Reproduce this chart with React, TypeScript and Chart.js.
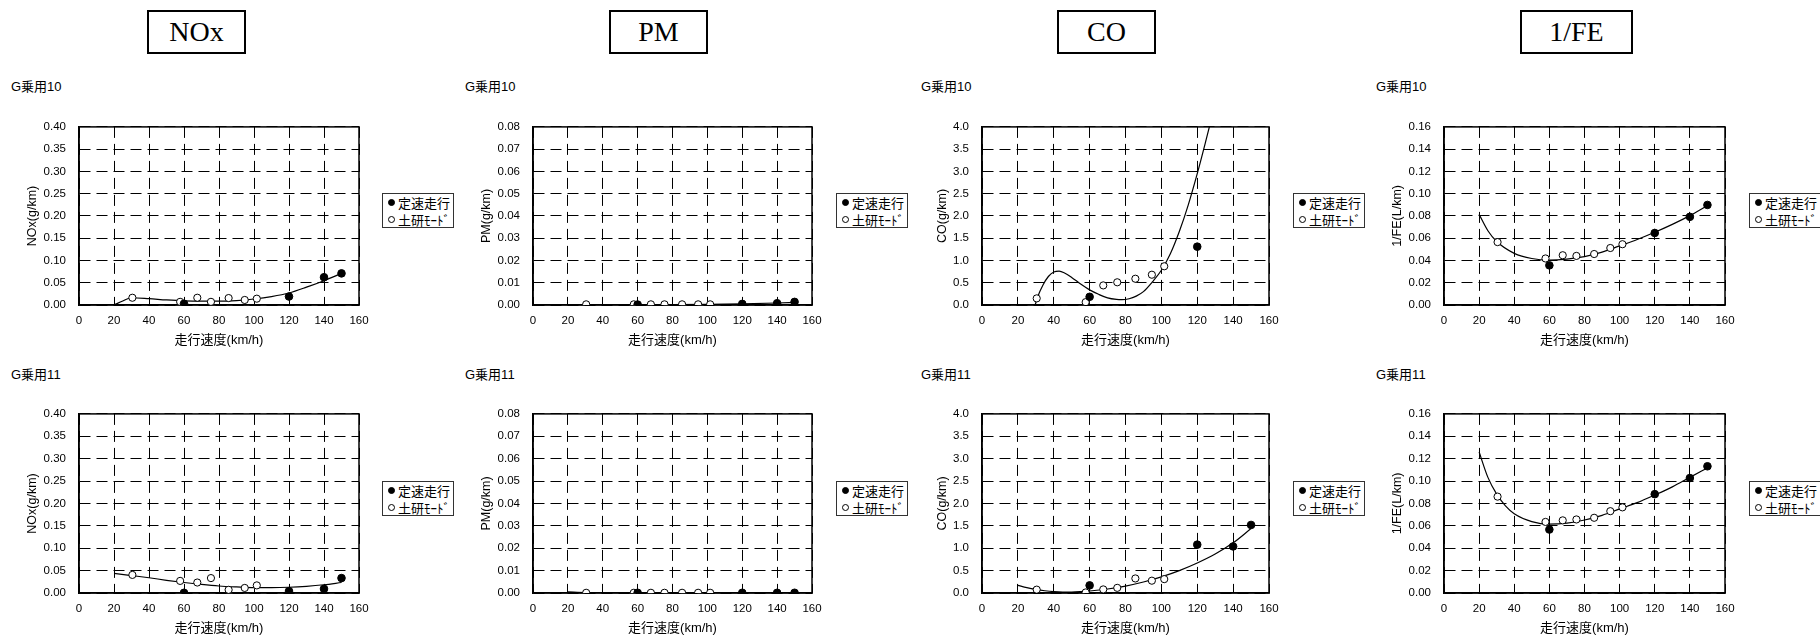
import React, { useEffect, useRef } from "react";
import { Chart, registerables } from "chart.js";

Chart.register(...registerables);

// ---- shared speeds ----
const modeSpeed = [30.5, 57.8, 67.6, 75.4, 85.5, 94.7, 101.6];
const constSpeed = [60, 120, 140, 150];
const coG10ConstSpeed = [60, 120];
const xTicks = [0, 20, 40, 60, 80, 100, 120, 140, 160];

// ---- NOx ----
const noxG10Mode = [0.0163, 0.0071, 0.0163, 0.0071, 0.0156, 0.0113, 0.0142];
const noxG10Const = [0.0028, 0.019, 0.0624, 0.071];
const noxG10TrendX = [20, 25, 30, 40, 50, 60, 70, 80, 90, 100, 110, 120, 130, 140, 150];
const noxG10TrendY = [0, 0.009, 0.0163, 0.0142, 0.0113, 0.0092, 0.0085, 0.0085, 0.0099, 0.0135, 0.019, 0.027, 0.04, 0.0546, 0.071];

const noxG11Mode = [0.0404, 0.027, 0.0234, 0.0333, 0.0071, 0.0113, 0.017];
const noxG11Const = [0.0005, 0.0043, 0.0092, 0.0333];
const noxG11TrendX = [20, 30, 40, 50, 60, 70, 80, 90, 100, 110, 120, 130, 140, 150];
const noxG11TrendY = [0.044, 0.039, 0.034, 0.0284, 0.0234, 0.0191, 0.0156, 0.0135, 0.012, 0.012, 0.0128, 0.0149, 0.0184, 0.0234];

// ---- PM ----
const pmG10Mode = [0.0003, 0.0003, 0.0003, 0.0003, 0.0003, 0.0003, 0.0003];
const pmG10Const = [0.0002, 0.0005, 0.0008, 0.0014];
const pmG10TrendX = [20, 30, 40, 60, 80, 100, 120, 140, 150];
const pmG10TrendY = [0, 0.0001, 0.0002, 0.0002, 0.0002, 0.0003, 0.0005, 0.0009, 0.0012];

const pmG11Mode = [0.0001, 0.0001, 0.0001, 0.0001, 0.0001, 0.0001, 0.0001];
const pmG11Const = [0.0001, 0.0001, 0.0001, 0.0001];
const pmG11TrendX = [20, 30, 40, 60, 100, 150];
const pmG11TrendY = [0.0005, 0.0002, 0.0001, 0.0001, 0.0001, 0.0001];

// ---- CO ----
const coG10Mode = [0.149, 0.064, 0.44, 0.51, 0.59, 0.68, 0.87];
const coG10Const = [0.184, 1.31];
const coG10TrendX = [29.2, 31, 34, 37, 40, 43, 46, 50, 55, 60, 65, 70, 75, 78, 82, 86, 90, 95, 100, 105, 110, 115, 120, 125, 128];
const coG10TrendY = [-0.06, 0.18, 0.45, 0.64, 0.74, 0.76, 0.72, 0.62, 0.47, 0.34, 0.24, 0.16, 0.125, 0.12, 0.14, 0.2, 0.3, 0.52, 0.78, 1.15, 1.65, 2.25, 2.95, 3.72, 4.2];

const coG11Mode = [0.075, 0.012, 0.08, 0.115, 0.325, 0.275, 0.31];
const coG11Const = [0.17, 1.08, 1.04, 1.52];
const coG11TrendX = [20, 25, 30, 35, 40, 45, 50, 55, 60, 70, 80, 90, 100, 110, 120, 130, 140, 150];
const coG11TrendY = [0.17, 0.12, 0.08, 0.05, 0.03, 0.022, 0.022, 0.03, 0.045, 0.09, 0.155, 0.245, 0.36, 0.5, 0.67, 0.87, 1.12, 1.44];

// ---- 1/FE ----
const feG10Mode = [0.0565, 0.0418, 0.0447, 0.0441, 0.0458, 0.0512, 0.0546];
const feG10Const = [0.0356, 0.0647, 0.0792, 0.0899];
const feG10TrendX = [20, 25, 30, 40, 50, 60, 70, 80, 90, 100, 110, 120, 130, 140, 150];
const feG10TrendY = [0.0814, 0.0667, 0.057, 0.0464, 0.0418, 0.0404, 0.0413, 0.0435, 0.0475, 0.0531, 0.0588, 0.0653, 0.0724, 0.0803, 0.0893];

const feG11Mode = [0.0861, 0.0635, 0.0649, 0.0657, 0.0672, 0.0731, 0.0765];
const feG11Const = [0.0567, 0.0883, 0.1027, 0.1132];
const feG11TrendX = [20, 25, 30, 35, 40, 50, 60, 70, 80, 90, 100, 110, 120, 130, 140, 150];
const feG11TrendY = [0.1259, 0.1033, 0.0883, 0.0779, 0.0708, 0.0638, 0.0615, 0.0624, 0.0652, 0.0694, 0.0751, 0.0807, 0.0875, 0.0948, 0.1033, 0.1117];

// ---- labels ----
const headers = ["NOx", "PM", "CO", "1/FE"];
const vehicleNames = ["G乗用10", "G乗用11"];
const yTitles = ["NOx(g/km)", "PM(g/km)", "CO(g/km)", "1/FE(L/km)"];
const xTitle = "走行速度(km/h)";
const legendLabels = ["定速走行", "土研ﾓｰﾄﾞ"];

// ---- layout ----
const cols = [
  { plotL: 79, plotW: 280, yTitleGap: 46, decimals: 2, yMax: 0.4, yStep: 0.05, headL: 147, headW: 99, nameL: 11, legL: 382 },
  { plotL: 533, plotW: 279, yTitleGap: 46, decimals: 2, yMax: 0.08, yStep: 0.01, headL: 609, headW: 99, nameL: 465, legL: 836 },
  { plotL: 982, plotW: 287, yTitleGap: 39, decimals: 1, yMax: 4.0, yStep: 0.5, headL: 1057, headW: 99, nameL: 921, legL: 1293 },
  { plotL: 1444, plotW: 281, yTitleGap: 46, decimals: 2, yMax: 0.16, yStep: 0.02, headL: 1520, headW: 113, nameL: 1376, legL: 1749 },
];
const rows = [
  { plotT: 117, plotH: 188, nameY: 85, legT: 193 },
  { plotT: 404, plotH: 189, nameY: 373, legT: 481 },
];

const panelData = [
  [
    { mode: noxG10Mode, cx: constSpeed, cy: noxG10Const, tx: noxG10TrendX, ty: noxG10TrendY },
    { mode: pmG10Mode, cx: constSpeed, cy: pmG10Const, tx: pmG10TrendX, ty: pmG10TrendY },
    { mode: coG10Mode, cx: coG10ConstSpeed, cy: coG10Const, tx: coG10TrendX, ty: coG10TrendY },
    { mode: feG10Mode, cx: constSpeed, cy: feG10Const, tx: feG10TrendX, ty: feG10TrendY },
  ],
  [
    { mode: noxG11Mode, cx: constSpeed, cy: noxG11Const, tx: noxG11TrendX, ty: noxG11TrendY },
    { mode: pmG11Mode, cx: constSpeed, cy: pmG11Const, tx: pmG11TrendX, ty: pmG11TrendY },
    { mode: coG11Mode, cx: constSpeed, cy: coG11Const, tx: coG11TrendX, ty: coG11TrendY },
    { mode: feG11Mode, cx: constSpeed, cy: feG11Const, tx: feG11TrendX, ty: feG11TrendY },
  ],
];

const SANS = '"Liberation Sans", Arial, "Noto Sans CJK JP", sans-serif';
const AXW = 60;
const PT = 10;
const PR = 20;
const AXH = 45;

const framePlugin = {
  id: "frame",
  beforeDatasetsDraw(chart: any) {
    const { ctx, chartArea } = chart;
    const { left, top, right, bottom } = chartArea;
    ctx.save();
    ctx.strokeStyle = "#000";
    ctx.lineWidth = 1.5;
    ctx.setLineDash([]);
    ctx.strokeRect(left, top, right - left, bottom - top);
    ctx.restore();
  },
};

function Panel({ ci, ri }: { ci: number; ri: number }) {
  const ref = useRef<HTMLCanvasElement>(null);
  const col = cols[ci];
  const row = rows[ri];
  const d = panelData[ri][ci];
  const w = AXW + col.plotW + PR;
  const h = PT + row.plotH + AXH;

  useEffect(() => {
    const yTitleFont = 12.5;
    const yTitlePad = AXW - col.yTitleGap - (yTitleFont * 1.2) / 2;
    const chart = new Chart(ref.current as HTMLCanvasElement, {
      type: "scatter",
      data: {
        datasets: [
          {
            type: "line",
            data: d.tx.map((x: number, i: number) => ({ x, y: d.ty[i] })),
            borderColor: "#000",
            borderWidth: 1.2,
            pointRadius: 0,
            fill: false,
            cubicInterpolationMode: "monotone",
            order: 3,
          } as any,
          {
            data: modeSpeed.map((x, i) => ({ x, y: d.mode[i] })),
            pointRadius: 3.6,
            pointBackgroundColor: "#fff",
            pointBorderColor: "#000",
            pointBorderWidth: 1,
            order: 2,
          },
          {
            data: d.cx.map((x: number, i: number) => ({ x, y: d.cy[i] })),
            pointRadius: 3.8,
            pointBackgroundColor: "#000",
            pointBorderColor: "#000",
            pointBorderWidth: 1,
            order: 1,
          },
        ],
      },
      options: {
        animation: false,
        responsive: false,
        maintainAspectRatio: false,
        layout: { padding: { top: PT, right: PR, left: 0, bottom: 0 } },
        plugins: { legend: { display: false }, tooltip: { enabled: false } },
        scales: {
          x: {
            type: "linear",
            min: 0,
            max: 160,
            afterBuildTicks: (s: any) => {
              s.ticks = xTicks.map((v) => ({ value: v }));
            },
            afterFit: (s: any) => {
              s.height = AXH;
            },
            ticks: {
              autoSkip: false,
              maxRotation: 0,
              padding: 9,
              color: "#000",
              font: { family: SANS, size: 11.5 },
            },
            grid: { color: "#000", lineWidth: 1, drawTicks: false },
            border: { display: true, color: "#000", width: 1.5, dash: [11, 6] },
            title: {
              display: true,
              text: xTitle,
              color: "#000",
              font: { family: SANS, size: 13 },
              padding: { top: 0, bottom: 2 },
            },
          },
          y: {
            type: "linear",
            min: 0,
            max: col.yMax,
            afterFit: (s: any) => {
              s.width = AXW;
            },
            ticks: {
              stepSize: col.yStep,
              padding: 13,
              color: "#000",
              font: { family: SANS, size: 11.5 },
              callback: (v: any) => Number(v).toFixed(col.decimals),
            },
            grid: { color: "#000", lineWidth: 1, drawTicks: false },
            border: { display: true, color: "#000", width: 1.5, dash: [11, 6] },
            title: {
              display: true,
              text: yTitles[ci],
              color: "#000",
              font: { family: SANS, size: yTitleFont },
              padding: { top: yTitlePad, bottom: 0 },
            },
          },
        },
      } as any,
      plugins: [framePlugin],
    });
    return () => chart.destroy();
  }, []);

  return (
    <canvas
      ref={ref}
      width={w}
      height={h}
      style={{
        position: "absolute",
        left: col.plotL - AXW,
        top: row.plotT - PT,
        width: w,
        height: h,
      }}
    />
  );
}

function Legend({ left, top }: { left: number; top: number }) {
  const item = (filled: boolean, label: string) => (
    <div style={{ display: "flex", alignItems: "center", height: 17, whiteSpace: "nowrap" }}>
      <span
        style={{
          display: "inline-block",
          width: 7,
          height: 7,
          borderRadius: "50%",
          border: "1px solid #000",
          background: filled ? "#000" : "#fff",
          boxSizing: "border-box",
          marginLeft: 5,
          marginRight: 3,
        }}
      />
      <span>{label}</span>
    </div>
  );
  return (
    <div
      style={{
        position: "absolute",
        left,
        top,
        width: 72,
        height: 35,
        boxSizing: "border-box",
        border: "1px solid #333",
        background: "#fff",
        paddingTop: 0,
        font: `13px ${SANS}`,
        color: "#000",
        overflow: "hidden",
      }}
    >
      {item(true, legendLabels[0])}
      {item(false, legendLabels[1])}
    </div>
  );
}

export default function App() {
  return (
    <div
      style={{
        position: "absolute",
        left: 0,
        top: 0,
        width: 1820,
        height: 638,
        overflow: "hidden",
        background: "#fff",
      }}
    >
      {cols.map((c, ci) => (
        <div
          key={"h" + ci}
          style={{
            position: "absolute",
            left: c.headL,
            top: 10,
            width: c.headW,
            height: 44,
            boxSizing: "border-box",
            border: "2px solid #000",
            font: '28px "Liberation Serif", "Times New Roman", serif',
            lineHeight: "40px",
            textAlign: "center",
            color: "#000",
          }}
        >
          {headers[ci]}
        </div>
      ))}
      {rows.map((r, ri) =>
        cols.map((c, ci) => (
          <React.Fragment key={`p${ri}-${ci}`}>
            <div
              style={{
                position: "absolute",
                left: c.nameL,
                top: r.nameY - 9,
                height: 18,
                lineHeight: "18px",
                font: `13px ${SANS}`,
                color: "#000",
                whiteSpace: "nowrap",
              }}
            >
              {vehicleNames[ri]}
            </div>
            <Panel ci={ci} ri={ri} />
            <Legend left={c.legL} top={r.legT} />
          </React.Fragment>
        ))
      )}
    </div>
  );
}
